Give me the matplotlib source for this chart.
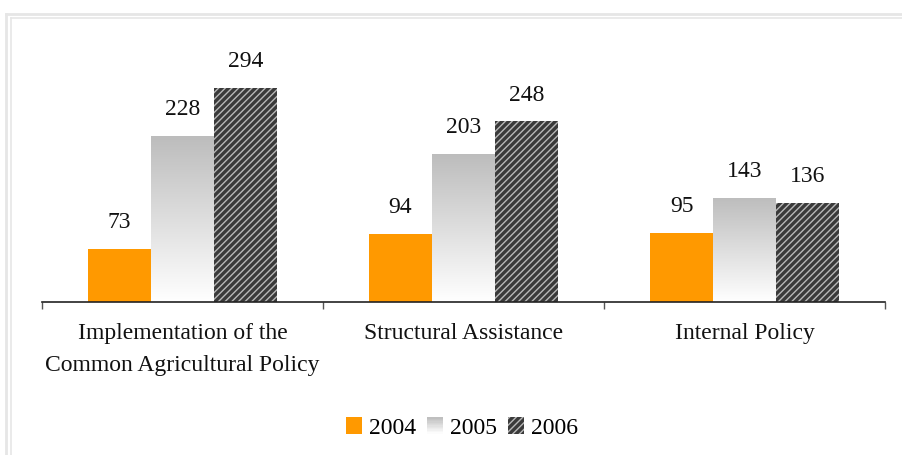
import numpy as np
import matplotlib
matplotlib.use("Agg")
import matplotlib.pyplot as plt
from matplotlib.patches import Rectangle
from matplotlib.lines import Line2D
from matplotlib.legend_handler import HandlerBase

categories = ["Implementation of the\nCommon Agricultural Policy",
              "Structural Assistance",
              "Internal Policy"]
years = ["2004", "2005", "2006"]
values_2004 = [73, 94, 95]
values_2005 = [228, 203, 143]
values_2006 = [294, 248, 136]

plt.rcParams["font.family"] = ["Liberation Serif", "DejaVu Serif"]
plt.rcParams["hatch.linewidth"] = 1.0

ORANGE = "#FF9900"
GRAD_TOP = np.array([0.74, 0.74, 0.74])
GRAD_BOT = np.array([1.0, 1.0, 1.0])
HATCH_FACE = "#3a3a3a"
HATCH_LINE = "#b8b8b8"
FS = 17

W, H = 902, 455
fig = plt.figure(figsize=(W / 100, H / 100), dpi=100)
ax = fig.add_axes([42 / W, (H - 302) / H, (885 - 42) / W, (302 - 30) / H])

x = np.arange(len(categories))
bw = 0.224

ax.bar(x - bw, values_2004, bw, color=ORANGE, linewidth=0, zorder=2)
gray_bars = ax.bar(x, values_2005, bw, color="none", linewidth=0, zorder=2)
ax.bar(x + bw, values_2006, bw, facecolor=HATCH_FACE, edgecolor=HATCH_LINE,
       hatch="/////", linewidth=0, zorder=2)

# vertical gradient inside each 2005 bar
grad = np.linspace(0, 1, 256)[:, None]
grad_img = GRAD_TOP[None, None, :] * (1 - grad[..., None]) + GRAD_BOT[None, None, :] * grad[..., None]
for rect in gray_bars:
    x0, w, h = rect.get_x(), rect.get_width(), rect.get_height()
    im = ax.imshow(grad_img, extent=[x0, x0 + w, 0, h], origin="upper",
                   aspect="auto", zorder=2, interpolation="bilinear")
    im.set_clip_path(rect)

ax.set_xlim(-0.5, 2.5)
ax.set_ylim(0, 272 / 0.728)

for series, off in ((values_2004, -bw), (values_2005, 0), (values_2006, bw)):
    for xi, v in zip(x, series):
        ax.annotate(f"{v}", (xi + off, v), xytext=(0, 19), textcoords="offset points",
                    ha="center", va="center", fontsize=FS, color="#111111")

for s in ("top", "right", "left"):
    ax.spines[s].set_visible(False)
ax.spines["bottom"].set_color("#222222")
ax.spines["bottom"].set_linewidth(1.2)
ax.set_yticks([])
ax.set_xticks([-0.5, 0.5, 1.5, 2.5])
ax.set_xticklabels([])
ax.tick_params(axis="x", length=5, width=1, color="#555555")
ax.set_xticks(x, minor=True)
ax.set_xticklabels(categories, minor=True, fontsize=FS, color="#111111",
                   linespacing=1.68)
ax.tick_params(axis="x", which="minor", length=0, pad=15)


class GradientHandler(HandlerBase):
    def create_artists(self, legend, orig_handle, xdescent, ydescent,
                       width, height, fontsize, trans):
        n = 12
        arts = []
        for i in range(n):
            t = (i + 0.5) / n
            c = GRAD_BOT * (1 - t) + GRAD_TOP * t
            r = Rectangle((-xdescent, -ydescent + height * i / n), width, height / n + 0.3,
                          facecolor=c, linewidth=0, transform=trans)
            arts.append(r)
        return arts


h2004 = Rectangle((0, 0), 1, 1, facecolor=ORANGE, linewidth=0)
h2005 = Rectangle((0, 0), 1, 1, facecolor="#dddddd", linewidth=0)
h2006 = Rectangle((0, 0), 1, 1, facecolor=HATCH_FACE, edgecolor=HATCH_LINE,
                  hatch="/////", linewidth=0)
fig.legend([h2004, h2005, h2006], years, loc="center",
           bbox_to_anchor=(462 / W, 1 - 428 / H), ncol=3, frameon=False,
           fontsize=FS, handlelength=0.68, handleheight=0.68,
           handletextpad=0.3, columnspacing=0.45,
           handler_map={h2005: GradientHandler()})

# double light frame around the chart area
fc = "#e6e6e6"
for xpx, ypx, lw in ((6, 13.5, 2.0), (11, 17.5, 1.2)):
    fig.add_artist(Line2D([xpx / W, xpx / W], [0, 1 - ypx / H], color=fc, lw=lw,
                          transform=fig.transFigure))
    fig.add_artist(Line2D([xpx / W, 1], [1 - ypx / H, 1 - ypx / H], color=fc, lw=lw,
                          transform=fig.transFigure))

fig.savefig("out.png", dpi=100, facecolor="white")
